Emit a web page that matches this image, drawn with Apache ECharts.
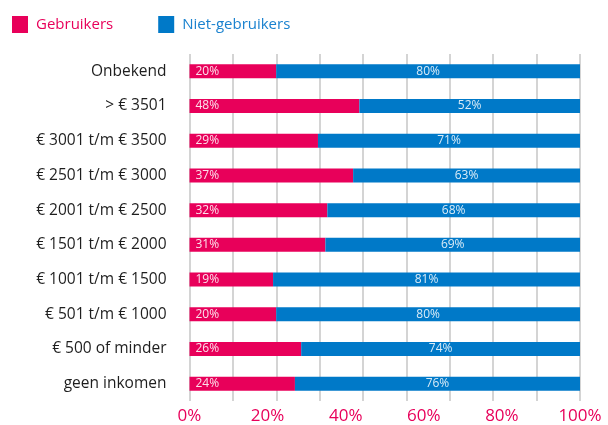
<!DOCTYPE html>
<html>
<head>
<meta charset="utf-8">
<script src="https://cdn.jsdelivr.net/npm/echarts@6/dist/echarts.min.js"></script>
<style>html,body{margin:0;padding:0;background:#fff}#c{width:608px;height:425px}</style>
</head>
<body>
<div id="c"></div>
<script>
// Categories, top to bottom
var categories = ['Onbekend', '> € 3501', '€ 3001 t/m € 3500', '€ 2501 t/m € 3000', '€ 2001 t/m € 2500',
  '€ 1501 t/m € 2000', '€ 1001 t/m € 1500', '€ 501 t/m € 1000', '€ 500 of minder', 'geen inkomen'];
// Bar lengths as drawn in the picture (share of the full bar, %)
var gebruikersBar = [22.2, 43.5, 32.9, 41.9, 35.3, 34.8, 21.4, 22.2, 28.6, 27.0];
var nietGebruikersBar = [77.8, 56.5, 67.1, 58.1, 64.7, 65.2, 78.6, 77.8, 71.4, 73.0];
// Printed percentage labels
var gebruikersLabels = [20, 48, 29, 37, 32, 31, 19, 20, 26, 24];
var nietGebruikersLabels = [80, 52, 71, 63, 68, 69, 81, 80, 74, 76];
var axisTicks = [0, 20, 40, 60, 80, 100];

var PINK = '#e8005a', BLUE = '#0079c8';
var FONT = 'Open Sans';
var chart = echarts.init(document.getElementById('c'), null, {renderer: 'canvas'});
chart.setOption({
  animation: false,
  textStyle: {fontFamily: FONT},
  legend: {
    left: 12, top: 16, padding: 0, itemWidth: 16, itemHeight: 17, itemGap: 45, icon: 'rect',
    textStyle: {fontSize: 15, fontFamily: FONT, padding: [0, 0, 0, 3]},
    data: [
      {name: 'Gebruikers', textStyle: {color: PINK}},
      {name: 'Niet-gebruikers', textStyle: {color: '#1a82cf'}}
    ]
  },
  grid: {left: 189.5, right: 28, top: 54, bottom: 23},
  xAxis: [{
    type: 'value', min: axisTicks[0], max: axisTicks[axisTicks.length - 1], interval: 20,
    axisLine: {show: false}, axisTick: {show: false}, splitLine: {show: false},
    axisLabel: {formatter: '{value}%', color: PINK, fontSize: 17, margin: 7, fontFamily: FONT}
  }, {
    type: 'value', min: 0, max: 100, interval: 100 / 9, position: 'bottom',
    axisLine: {show: false}, axisTick: {show: false}, axisLabel: {show: false},
    splitLine: {show: true, lineStyle: {color: '#d4d4d4', width: 2}}
  }],
  yAxis: {
    type: 'category', inverse: true, data: categories,
    axisLine: {show: false}, axisTick: {show: false},
    axisLabel: {color: '#1e1e1e', fontSize: 15.5, margin: 23, fontFamily: FONT}
  },
  series: [{
    name: 'Gebruikers', type: 'bar', stack: 's', barWidth: 14, xAxisIndex: 0,
    itemStyle: {color: PINK}, data: gebruikersBar,
    label: {show: true, position: 'insideLeft', distance: 6, color: 'rgba(255,255,255,0.88)', fontSize: 12,
      formatter: function (p) { return gebruikersLabels[p.dataIndex] + '%'; }}
  }, {
    name: 'Niet-gebruikers', type: 'bar', stack: 's', barWidth: 14, xAxisIndex: 0,
    itemStyle: {color: BLUE}, data: nietGebruikersBar,
    label: {show: true, position: 'inside', color: 'rgba(255,255,255,0.85)', fontSize: 12,
      formatter: function (p) { return nietGebruikersLabels[p.dataIndex] + '%'; }}
  }]
});
</script>
</body>
</html>
